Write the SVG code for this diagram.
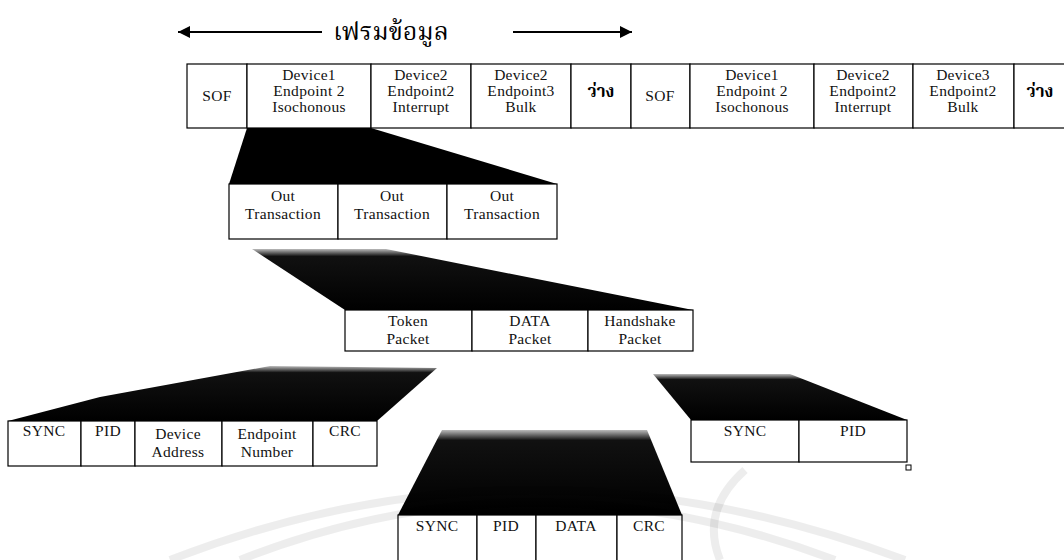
<svg xmlns="http://www.w3.org/2000/svg" width="1064" height="560" viewBox="0 0 1064 560">
  <defs>
    <style>
      .cell { fill: #fff; stroke: #000; stroke-width: 1.2; }
      .lbl { font-family: "Liberation Serif", "Times New Roman", serif; font-size: 15.5px; letter-spacing: 0.3px; fill: #111; text-anchor: middle; }
      .th { font-family: "Noto Serif Thai", "Noto Sans Thai", "Loma", "Garuda", "DejaVu Sans", sans-serif; fill: #000; text-anchor: middle; }
      .wedge { fill: #000; }
      .wm { fill: none; stroke: #000; stroke-opacity: 0.07; stroke-width: 8; }
    </style>
    <!-- dithered top edge of the expansion wedges -->
    <linearGradient id="grain" x1="0" y1="0" x2="0" y2="1">
      <stop offset="0" stop-color="#bbb"/>
      <stop offset="0.12" stop-color="#111"/>
      <stop offset="1" stop-color="#000"/>
    </linearGradient>
    <marker id="head" viewBox="0 0 10 10" refX="10" refY="5" markerWidth="9" markerHeight="6" markerUnits="strokeWidth" orient="auto-start-reverse">
      <path d="M0,0 L10,5 L0,10 z" fill="#000"/>
    </marker>
  </defs>

  <rect width="1064" height="560" fill="#fff"/>

  <!-- title with span arrows -->
  <g id="title">
    <line x1="322" y1="32" x2="178" y2="32" stroke="#000" stroke-width="2" marker-end="url(#head)"/>
    <line x1="513" y1="32" x2="632" y2="32" stroke="#000" stroke-width="2" marker-end="url(#head)"/>
    <text class="th" x="391" y="40" font-size="25">เฟรมข้อมูล</text>
  </g>

  <!-- expansion wedges linking each level to the next -->
  <g id="connectors">
    <polygon class="wedge" points="247,128 371,128 557,184 229,184"/>
    <polygon points="252,249 386,249 693,310 345,310" fill="url(#grain)"/>
    <polygon points="270,366 437,368 377,421 8,421 100,397" fill="url(#grain)"/>
    <polygon points="653,374 790,374 907,420 691,420" fill="url(#grain)"/>
    <polygon points="442,430 647,430 682,515 398,515" fill="url(#grain)"/>
  </g>

  <!-- frame row -->
  <g id="frame">
    <g id="f-sof1"><rect class="cell" x="187" y="64" width="60" height="64"/><text class="lbl" x="217" y="101">SOF</text></g>
    <g id="f-d1e2"><rect class="cell" x="247" y="64" width="124" height="64"/>
      <text class="lbl" x="309" y="80">Device1</text><text class="lbl" x="309" y="96">Endpoint 2</text><text class="lbl" x="309" y="112">Isochonous</text></g>
    <g id="f-d2e2"><rect class="cell" x="371" y="64" width="100" height="64"/>
      <text class="lbl" x="421" y="80">Device2</text><text class="lbl" x="421" y="96">Endpoint2</text><text class="lbl" x="421" y="112">Interrupt</text></g>
    <g id="f-d2e3"><rect class="cell" x="471" y="64" width="100" height="64"/>
      <text class="lbl" x="521" y="80">Device2</text><text class="lbl" x="521" y="96">Endpoint3</text><text class="lbl" x="521" y="112">Bulk</text></g>
    <g id="f-idle1"><rect class="cell" x="571" y="64" width="60" height="64"/><text class="th" x="601" y="97" font-size="17" font-weight="bold">ว่าง</text></g>
    <g id="f-sof2"><rect class="cell" x="631" y="64" width="59" height="64"/><text class="lbl" x="660" y="101">SOF</text></g>
    <g id="f-d1e2b"><rect class="cell" x="690" y="64" width="124" height="64"/>
      <text class="lbl" x="752" y="80">Device1</text><text class="lbl" x="752" y="96">Endpoint 2</text><text class="lbl" x="752" y="112">Isochonous</text></g>
    <g id="f-d2e2b"><rect class="cell" x="814" y="64" width="99" height="64"/>
      <text class="lbl" x="863" y="80">Device2</text><text class="lbl" x="863" y="96">Endpoint2</text><text class="lbl" x="863" y="112">Interrupt</text></g>
    <g id="f-d3e2"><rect class="cell" x="913" y="64" width="101" height="64"/>
      <text class="lbl" x="963" y="80">Device3</text><text class="lbl" x="963" y="96">Endpoint2</text><text class="lbl" x="963" y="112">Bulk</text></g>
    <g id="f-idle2"><rect class="cell" x="1014" y="64" width="60" height="64"/><text class="th" x="1040" y="97" font-size="17" font-weight="bold">ว่าง</text></g>
  </g>

  <!-- transactions -->
  <g id="transactions">
    <g id="t1"><rect class="cell" x="229" y="184" width="109" height="55"/><text class="lbl" x="283" y="201">Out</text><text class="lbl" x="283" y="219">Transaction</text></g>
    <g id="t2"><rect class="cell" x="338" y="184" width="109" height="55"/><text class="lbl" x="392" y="201">Out</text><text class="lbl" x="392" y="219">Transaction</text></g>
    <g id="t3"><rect class="cell" x="447" y="184" width="110" height="55"/><text class="lbl" x="502" y="201">Out</text><text class="lbl" x="502" y="219">Transaction</text></g>
  </g>

  <!-- packets -->
  <g id="packets">
    <g id="p-token"><rect class="cell" x="345" y="310" width="127" height="41"/><text class="lbl" x="408" y="326">Token</text><text class="lbl" x="408" y="344">Packet</text></g>
    <g id="p-data"><rect class="cell" x="472" y="310" width="116" height="41"/><text class="lbl" x="530" y="326">DATA</text><text class="lbl" x="530" y="344">Packet</text></g>
    <g id="p-hs"><rect class="cell" x="588" y="310" width="105" height="41"/><text class="lbl" x="640" y="326">Handshake</text><text class="lbl" x="640" y="344">Packet</text></g>
  </g>

  <!-- token packet fields -->
  <g id="token-fields">
    <g id="tk-sync"><rect class="cell" x="8" y="421" width="73" height="45"/><text class="lbl" x="44" y="436">SYNC</text></g>
    <g id="tk-pid"><rect class="cell" x="81" y="421" width="54" height="45"/><text class="lbl" x="108" y="436">PID</text></g>
    <g id="tk-addr"><rect class="cell" x="135" y="421" width="87" height="45"/><text class="lbl" x="178" y="439">Device</text><text class="lbl" x="178" y="457">Address</text></g>
    <g id="tk-ep"><rect class="cell" x="222" y="421" width="91" height="45"/><text class="lbl" x="267" y="439">Endpoint</text><text class="lbl" x="267" y="457">Number</text></g>
    <g id="tk-crc"><rect class="cell" x="313" y="421" width="64" height="45"/><text class="lbl" x="345" y="436">CRC</text></g>
  </g>

  <!-- handshake packet fields -->
  <g id="hs-fields">
    <g id="hs-sync"><rect class="cell" x="691" y="420" width="108" height="42"/><text class="lbl" x="745" y="436">SYNC</text></g>
    <g id="hs-pid"><rect class="cell" x="799" y="420" width="108" height="42"/><text class="lbl" x="853" y="436">PID</text></g>
    <rect x="906" y="465" width="5" height="5" fill="#fff" stroke="#000" stroke-width="1"/>
  </g>

  <!-- data packet fields -->
  <g id="data-fields">
    <g id="d-sync"><rect class="cell" x="398" y="515" width="79" height="50"/><text class="lbl" x="437" y="531">SYNC</text></g>
    <g id="d-pid"><rect class="cell" x="477" y="515" width="59" height="50"/><text class="lbl" x="506" y="531">PID</text></g>
    <g id="d-data"><rect class="cell" x="536" y="515" width="81" height="50"/><text class="lbl" x="576" y="531">DATA</text></g>
    <g id="d-crc"><rect class="cell" x="617" y="515" width="65" height="50"/><text class="lbl" x="649" y="531">CRC</text></g>
  </g>

  <!-- faint background seal arcs -->
  <g id="seal">
    <path class="wm" d="M170,560 Q530,420 905,560"/>
    <path class="wm" d="M240,560 Q530,445 835,560"/>
    <path class="wm" d="M745,470 Q700,510 720,560"/>
  </g>
</svg>
